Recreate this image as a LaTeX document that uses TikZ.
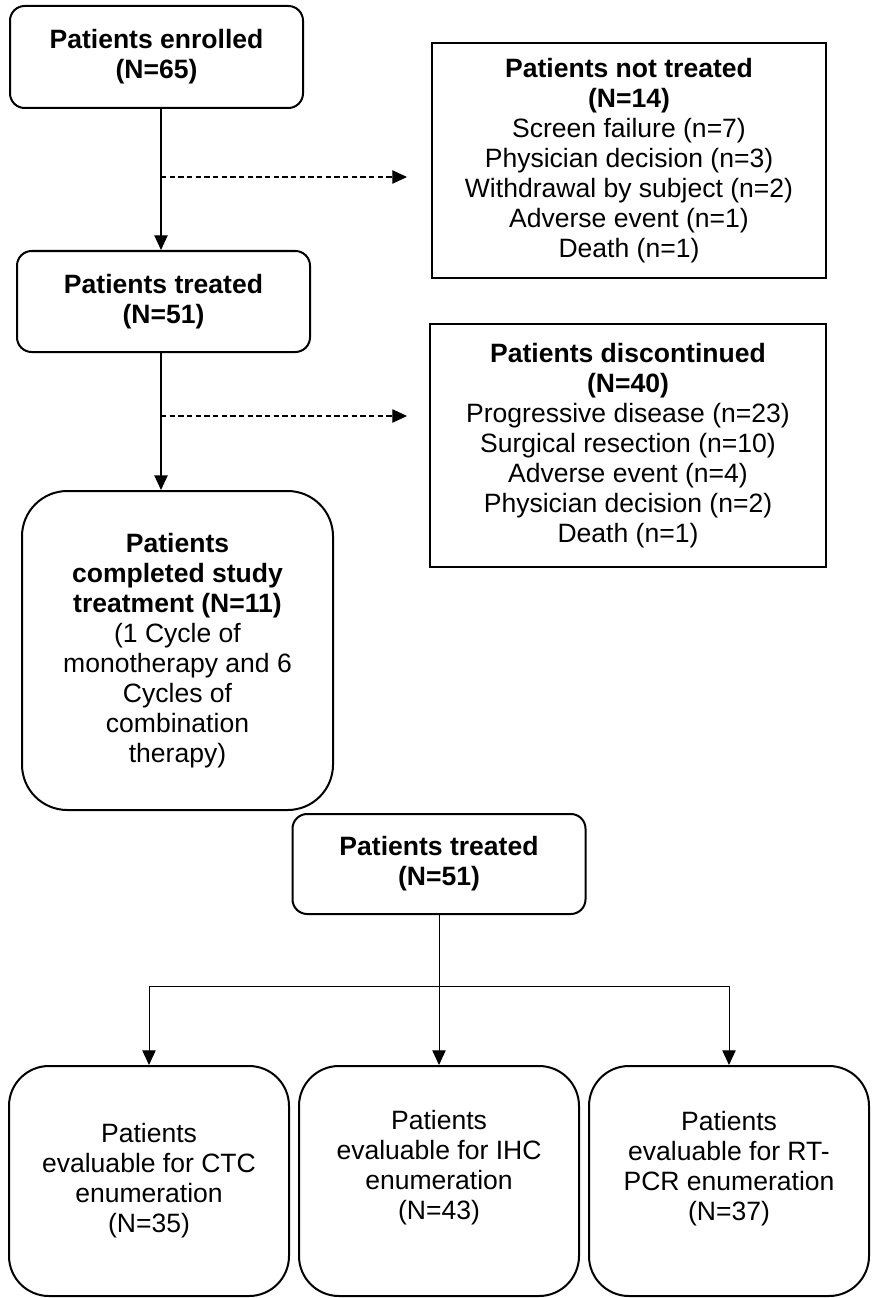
\documentclass[tikz,border=0pt]{standalone}
\usepackage{fontspec}
\setmainfont{Liberation Sans}
\usetikzlibrary{positioning,arrows.meta}

\tikzset{
  box/.style={draw, line width=1.5pt, rounded corners=11pt, align=center, inner sep=0pt},
  listbox/.style={draw, line width=1.5pt, align=center, inner sep=0pt},
  bigbox/.style={box, rounded corners=34pt},
  leafbox/.style={box, rounded corners=30pt, minimum width=210pt, minimum height=172.5pt},
  arr/.style={line width=1pt, -{Triangle[width=10pt,length=11pt]}},
  dasharr/.style={line width=0.9pt, dash pattern=on 4pt off 2.5pt, -{Triangle[width=10pt,length=11pt]}},
  thinarr/.style={line width=0.75pt, -{Triangle[width=10pt,length=11pt]}}
}

\begin{document}
\begin{tikzpicture}[x=0.75pt,y=-0.75pt,font=\fontsize{19.9}{22.5}\selectfont]
  \useasboundingbox (0,0) rectangle (872,1298);

  % upper flow
  \node[box, minimum width=219.75pt, minimum height=76.5pt] (enrolled) at (156.5,57)
    {\textbf{Patients enrolled}\\\textbf{(N=65)}};
  \node[listbox, minimum width=295.5pt, minimum height=176.25pt] (nottreated) at (629,160.5)
    {\textbf{Patients not treated}\\\textbf{(N=14)}\\Screen failure (n=7)\\Physician decision (n=3)\\Withdrawal by subject (n=2)\\Adverse event (n=1)\\Death (n=1)};
  \node[box, minimum width=219.75pt, minimum height=75.75pt] (treated) at (163.5,301.5)
    {\textbf{Patients treated}\\\textbf{(N=51)}};
  \node[listbox, minimum width=297pt, minimum height=182.25pt] (discont) at (628,445.5)
    {\textbf{Patients discontinued}\\\textbf{(N=40)}\\Progressive disease (n=23)\\Surgical resection (n=10)\\Adverse event (n=4)\\Physician decision (n=2)\\Death (n=1)};
  \node[bigbox, minimum width=233.25pt, minimum height=239.25pt] (completed) at (177.5,650.5)
    {\textbf{Patients}\\\textbf{completed study}\\\textbf{treatment (N=11)}\\(1 Cycle of\\monotherapy and 6\\Cycles of\\combination\\therapy)};

  \coordinate (spine) at (161,0);
  \coordinate (skip1) at (161,177);
  \coordinate (skip2) at (161,416);
  \draw[arr] (spine |- enrolled.south) -- (spine |- treated.north);
  \draw[arr] (spine |- treated.south) -- (spine |- completed.north);
  \draw[dasharr, shorten >=18pt] (skip1) -- (skip1 -| nottreated.west);
  \draw[dasharr, shorten >=16.5pt] (skip2) -- (skip2 -| discont.west);

  % lower flow
  \node[box, minimum width=219.75pt, minimum height=75pt] (treated2) at (439,864)
    {\textbf{Patients treated}\\\textbf{(N=51)}};
  \node[leafbox, text depth=24pt] (ihc) at (439,1181)
    {Patients\\evaluable for IHC\\enumeration\\(N=43)};
  \node[leafbox] (ctc) [left=6pt of ihc]
    {Patients\\evaluable for CTC\\enumeration\\(N=35)};
  \node[leafbox, text depth=22pt] (rtpcr) [right=6pt of ihc]
    {Patients\\evaluable for RT-\\PCR enumeration\\(N=37)};

  \coordinate (fork) at (439,986);
  \draw[line width=0.75pt] (treated2.south) -- (treated2.south |- fork);
  \draw[line width=0.75pt] (fork -| ctc.north) -- (fork -| rtpcr.north);
  \draw[thinarr] (treated2.south) -- (ihc.north);
  \draw[thinarr] (fork -| ctc.north) -- (ctc.north);
  \draw[thinarr] (fork -| rtpcr.north) -- (rtpcr.north);
\end{tikzpicture}
\end{document}
